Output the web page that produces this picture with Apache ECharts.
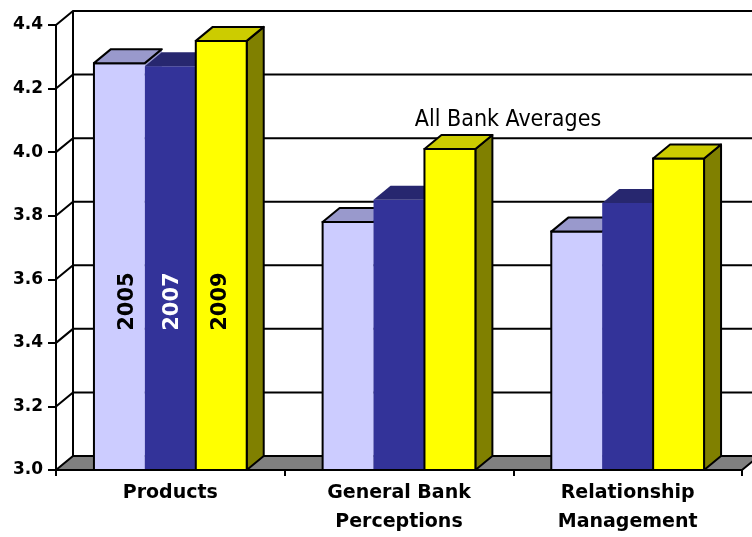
<!DOCTYPE html>
<html><head><meta charset="utf-8">
<script src="https://cdn.jsdelivr.net/npm/echarts@6/dist/echarts.min.js"></script>
<style>html,body{margin:0;padding:0;background:#fff}#c{width:752px;height:537px}</style>
</head><body><div id="c"></div>
<script>
// ---- data ----
const categories = ['Products', 'General Bank\nPerceptions', 'Relationship\nManagement'];
const years = ['2005', '2007', '2009'];
const values2005 = [4.28, 3.78, 3.75];
const values2007 = [4.27, 3.85, 3.84];
const values2009 = [4.35, 4.01, 3.98];
const yTicks = [3.0, 3.2, 3.4, 3.6, 3.8, 4.0, 4.2, 4.4];
const annotation = 'All Bank Averages';

// ---- styling ----
const Y_MIN = 3.0, Y_MAX = 4.4, Y_STEP = 0.2;
const LABEL_VALUE = 3.53;
const DX = 17, DY = -14;
const BAR_FRAC = 0.2227;
const styles = [
  { front: '#CCCCFF', top: '#9999CC', side: '#9999CC', outline: 'lt', text: '#000', shift: 8 },
  { front: '#333399', top: '#27276F', side: '#27276F', outline: 'none', text: '#fff', shift: 2 },
  { front: '#FFFF00', top: '#CCCC00', side: '#808000', outline: 'all', text: '#000', shift: -1 }
];

function barRender(k) {
  return function (params, api) {
    const i = api.value(0), v = api.value(1);
    const top = api.coord([i, v]);
    const base = api.coord([i, Y_MIN]);
    const band = api.size([1, 0])[0];
    const w = band * BAR_FRAC;
    const x0 = top[0] + (k - 1) * w - w / 2, x1 = x0 + w;
    const yt = top[1], yb = base[1];
    const s = styles[k];
    const all = s.outline === 'all';
    const ch = [];
    ch.push({ type: 'polygon', shape: { points: [[x1, yt], [x1 + DX, yt + DY], [x1 + DX, yb + DY], [x1, yb]] },
      style: { fill: s.side, stroke: all ? '#000' : null, lineWidth: 2, lineJoin: 'round' } });
    ch.push({ type: 'rect', shape: { x: x0, y: yt, width: w, height: yb - yt },
      style: { fill: s.front, stroke: all ? '#000' : null, lineWidth: 2 } });
    if (s.outline === 'lt') {
      ch.push({ type: 'polyline', shape: { points: [[x0, yb], [x0, yt], [x1, yt]] },
        style: { stroke: '#000', lineWidth: 2, fill: null } });
    }
    ch.push({ type: 'polygon', shape: { points: [[x0, yt], [x1, yt], [x1 + DX, yt + DY], [x0 + DX, yt + DY]] },
      style: { fill: s.top, stroke: s.outline === 'none' ? null : '#000', lineWidth: 2, lineJoin: 'round' } });
    if (params.dataIndex === 0) {
      ch.push({ type: 'text', x: (x0 + x1) / 2 + s.shift, y: api.coord([i, LABEL_VALUE])[1], rotation: Math.PI / 2,
        style: { text: years[k], fill: s.text, font: 'bold 21px "DejaVu Sans"', align: 'center', verticalAlign: 'middle' } });
    }
    return { type: 'group', children: ch };
  };
}

function wallRender(params, api) {
  const v = api.value(1);
  const cs = params.coordSys;
  const y = api.coord([0, v])[1];
  const xl = cs.x, xr = cs.x + cs.width;
  const ch = [];
  if (params.dataIndex === 0) {
    ch.push({ type: 'polygon', shape: { points: [[xl, y], [xr, y], [xr + DX, y + DY], [xl + DX, y + DY]] },
      style: { fill: '#808080', stroke: '#000', lineWidth: 2 } });
    ch.push({ type: 'line', shape: { x1: xl + DX, y1: y + DY, x2: xl + DX, y2: cs.y + DY },
      style: { stroke: '#000', lineWidth: 2 } });
  } else {
    ch.push({ type: 'polyline', shape: { points: [[xl, y], [xl + DX, y + DY], [xr + DX, y + DY]] },
      style: { stroke: '#000', lineWidth: 2, fill: null } });
  }
  return { type: 'group', children: ch };
}

const seriesValues = [values2005, values2007, values2009];
const chart = echarts.init(document.getElementById('c'), null, { renderer: 'canvas' });
chart.setOption({
  animation: false,
  backgroundColor: '#fff',
  grid: { left: 56, right: 10, top: 25, bottom: 64 },
  xAxis: {
    type: 'category', data: categories, z: 10,
    axisLine: { show: true, lineStyle: { color: '#000', width: 2 } },
    axisTick: { show: true, length: 6, lineStyle: { color: '#000', width: 2 } },
    axisLabel: { interval: 0, margin: 9, color: '#000', fontFamily: 'DejaVu Sans', fontWeight: 'bold', fontSize: 19, lineHeight: 29 },
    splitLine: { show: false }
  },
  yAxis: {
    type: 'value', min: Y_MIN, max: Y_MAX, interval: Y_STEP, z: 10,
    axisLine: { show: true, lineStyle: { color: '#000', width: 2 } },
    axisTick: { show: true, length: 8, lineStyle: { color: '#000', width: 2 } },
    axisLabel: { margin: 13, color: '#000', fontFamily: 'DejaVu Sans', fontWeight: 'bold', fontSize: 17,
      formatter: v => v.toFixed(1) },
    splitLine: { show: false }
  },
  graphic: [{
    type: 'text', x: 508, y: 120, z: 20,
    style: { text: annotation, fill: '#000', font: '23px "DejaVu Sans Condensed", "DejaVu Sans"', align: 'center', verticalAlign: 'middle' }
  }],
  series: [
    { type: 'custom', name: 'walls', z: 1, clip: false, silent: true, renderItem: wallRender,
      data: yTicks.map(v => [0, v]) }
  ].concat(seriesValues.map((vals, k) => ({
    type: 'custom', name: years[k], z: 2 + k, clip: false, renderItem: barRender(k),
    data: vals.map((v, i) => [i, v])
  })))
});
</script>
</body></html>
